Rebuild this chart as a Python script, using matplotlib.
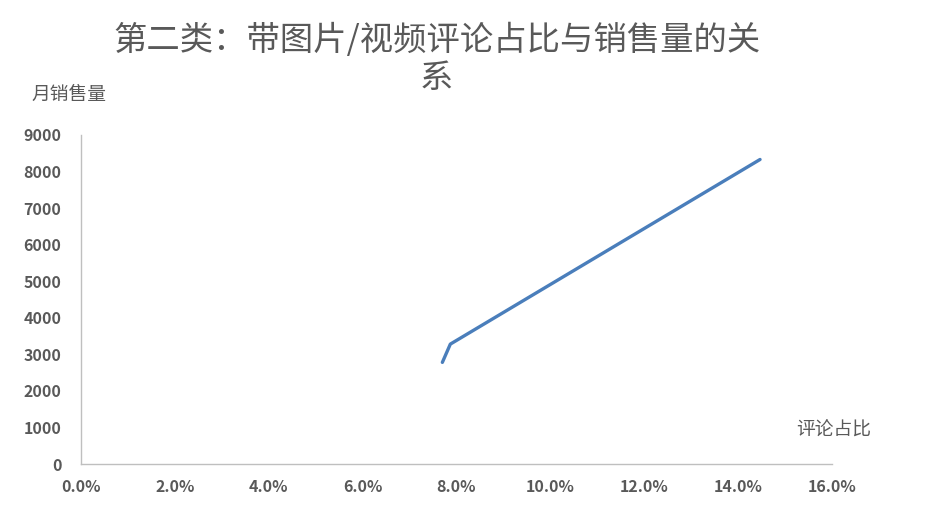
import matplotlib
matplotlib.use('Agg')
import matplotlib.pyplot as plt
from matplotlib.ticker import FuncFormatter

plt.rcParams['font.family'] = ['Noto Sans CJK SC', 'DejaVu Sans']

# data
share = [0.077, 0.0787, 0.1447]
sales = [2780, 3280, 8330]
x_ticks = [0.0, 0.02, 0.04, 0.06, 0.08, 0.10, 0.12, 0.14, 0.16]
y_ticks = [0, 1000, 2000, 3000, 4000, 5000, 6000, 7000, 8000, 9000]

gray = '#595959'
fig = plt.figure(figsize=(9.41, 5.18), dpi=100)
ax = fig.add_axes([0.0861, 0.1042, 0.7979, 0.6352])

ax.plot(share, sales, color='#4a7ebb', linewidth=2.4, solid_capstyle='round')

ax.set_xlim(0, 0.16)
ax.set_ylim(0, 9000)
ax.set_xticks(x_ticks)
ax.set_yticks(y_ticks)
ax.xaxis.set_major_formatter(FuncFormatter(lambda v, p: f'{v * 100:.1f}%'))

for s in ['top', 'right']:
    ax.spines[s].set_visible(False)
for s in ['left', 'bottom']:
    ax.spines[s].set_color('#bfbfbf')
    ax.spines[s].set_linewidth(1.0)
ax.tick_params(length=0, labelsize=11.5, labelcolor=gray, pad=11)
ax.tick_params(axis='y', pad=14)
for lab in ax.get_xticklabels() + ax.get_yticklabels():
    lab.set_fontweight('bold')

fig.text(0.464, 0.885, '第二类：带图片/视频评论占比与销售量的关\n系', ha='center', va='center',
         fontsize=24, color=gray, linespacing=1.12)
fig.text(0.073, 0.818, '月销售量', ha='center', va='center', fontsize=13.5, color=gray)
fig.text(0.886, 0.17, '评论占比', ha='center', va='center', fontsize=13.5, color=gray)

fig.savefig('out.png', dpi=100)
